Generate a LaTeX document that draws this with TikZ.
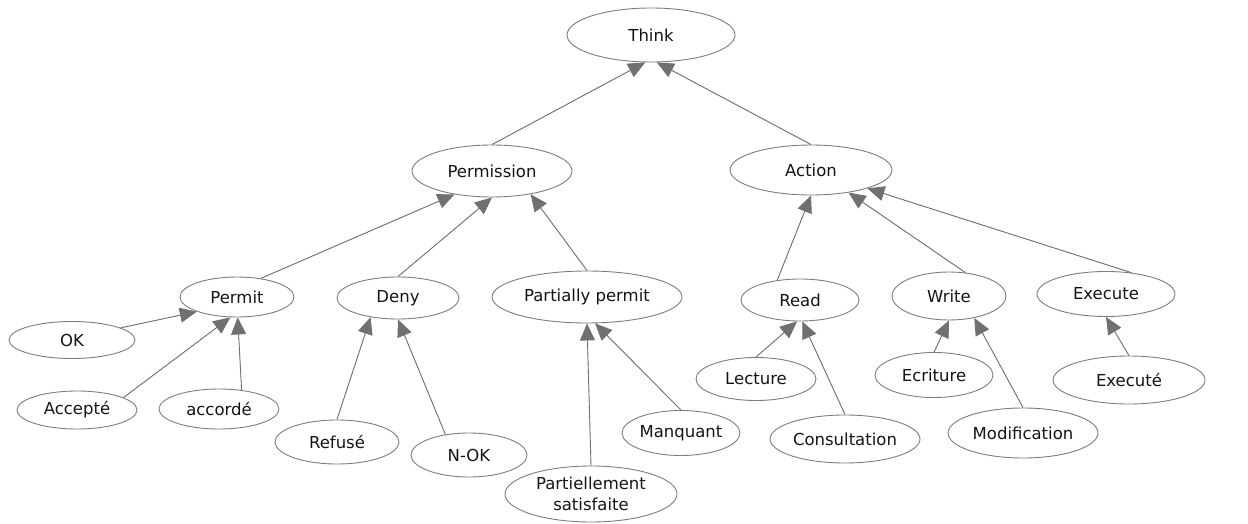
\documentclass[tikz,border=0pt]{standalone}
\usepackage{fontspec}
\setmainfont{DejaVu Sans}
\usepackage{xcolor}
\usepackage{tikz}
\usetikzlibrary{arrows.meta,shapes.geometric}
\definecolor{rimgray}{RGB}{125,125,125}
\definecolor{linkgray}{RGB}{112,112,112}
\definecolor{inkblack}{RGB}{20,20,20}

\begin{document}
\begin{tikzpicture}[x=1pt, y=-1pt,
		concept/.style={ellipse, draw=rimgray, line width=0.9pt, fill=white, inner sep=0pt, align=center, text=inkblack, font=\fontsize{16.5}{20.5}\selectfont},
		isa/.style={-{Triangle[length=17pt, width=15pt]}, line width=0.9pt, draw=linkgray, fill=linkgray}]
	\useasboundingbox (0,0) rectangle (1248,524);
	% top of the hierarchy
	\node[concept, minimum width=168pt, minimum height=54pt] (think) at (651,35) {Think};
	\node[concept, minimum width=160pt, minimum height=52pt] (permission) at (492,171) {Permission};
	\node[concept, minimum width=162pt, minimum height=50pt] (action) at (811,170) {Action};
	% permissions
	\node[concept, minimum width=114pt, minimum height=40pt] (permit) at (237,297) {Permit};
	\node[concept, minimum width=122pt, minimum height=42pt] (deny) at (398,298) {Deny};
	\node[concept, minimum width=190pt, minimum height=52pt] (partial) at (587,297) {Partially permit};
	\node[concept, minimum width=126pt, minimum height=37pt] (ok) at (72,340) {OK};
	\node[concept, minimum width=120pt, minimum height=38pt] (accepte) at (77,410) {Accepté};
	\node[concept, minimum width=120pt, minimum height=40pt] (accorde) at (219,409) {accordé};
	\node[concept, minimum width=124pt, minimum height=44pt] (refuse) at (337,442) {Refusé};
	\node[concept, minimum width=116pt, minimum height=44pt] (nok) at (469,455) {N-OK};
	\node[concept, minimum width=172pt, minimum height=56pt] (partsat) at (591,494) {Partiellement\\satisfaite};
	\node[concept, minimum width=118pt, minimum height=45pt] (manquant) at (681,433) {Manquant};
	% actions
	\node[concept, minimum width=118pt, minimum height=42pt] (read) at (800,300) {Read};
	\node[concept, minimum width=114pt, minimum height=48pt] (write) at (949,296) {Write};
	\node[concept, minimum width=138pt, minimum height=45pt] (execute) at (1106,294) {Execute};
	\node[concept, minimum width=120pt, minimum height=43pt] (lecture) at (756,379) {Lecture};
	\node[concept, minimum width=150pt, minimum height=48pt] (consult) at (845,439) {Consultation};
	\node[concept, minimum width=118pt, minimum height=45pt] (ecriture) at (934,375) {Ecriture};
	\node[concept, minimum width=150pt, minimum height=50pt] (modif) at (1023,433) {Modification};
	\node[concept, minimum width=152pt, minimum height=48pt] (executee) at (1129,380) {Executé};
	% is-a links, child to parent
	\draw[isa] (permission.north) -- (think.258);
	\draw[isa] (action.north) -- (think.282);
	\draw[isa] (permit.38) -- (permission.212);
	\draw[isa] (deny.north) -- (permission.south);
	\draw[isa] (partial.north) -- (permission.329);
	\draw[isa] (ok.14) -- (permit.200);
	\draw[isa] (accepte.15) -- (permit.252);
	\draw[isa] (accorde.40) -- (permit.272);
	\draw[isa] (refuse.north) -- (deny.215);
	\draw[isa] (nok.139) -- (deny.south);
	\draw[isa] (partsat.north) -- (partial.south);
	\draw[isa] (manquant.north) -- (partial.287);
	\draw[isa] (read.139) -- (action.south);
	\draw[isa] (write.55) -- (action.329);
	\draw[isa] (execute.40) -- (action.342);
	\draw[isa] (lecture.north) -- (read.262);
	\draw[isa] (consult.north) -- (read.276);
	\draw[isa] (ecriture.north) -- (write.south);
	\draw[isa] (modif.north) -- (write.319);
	\draw[isa] (executee.north) -- (execute.south);
\end{tikzpicture}
\end{document}
